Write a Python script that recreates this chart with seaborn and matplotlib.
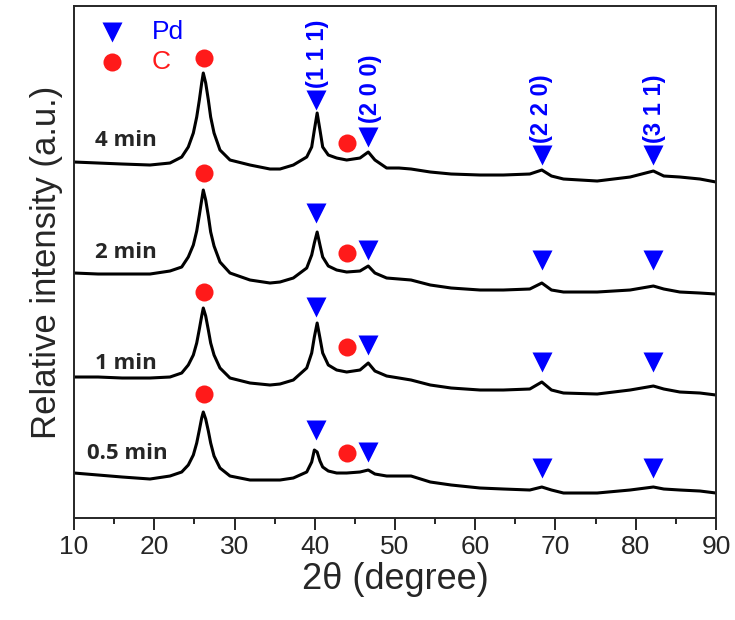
import matplotlib
matplotlib.use("Agg")
import matplotlib.pyplot as plt
import seaborn as sns
import pandas as pd
from matplotlib.ticker import MultipleLocator

# 2-theta grid (degree)
two_theta = [10, 13, 16, 19.47, 21.96, 23.42, 24.24, 24.87, 25.29, 25.62, 25.91, 26.11,
             26.41, 26.74, 27.03, 27.45, 28.19, 29.44, 31.93, 34.42, 35.67, 37.33, 39.0,
             39.62, 39.95, 40.3, 40.65, 40.99, 41.69, 42.73, 43.98, 45.64, 46.67, 47.5,
             48.96, 50.5, 52, 54.4, 57, 60.6, 63.5, 66.8, 68.3, 69.5, 71, 75.2, 79.3,
             82.2, 83.5, 85.5, 88, 90]

# intensities (a.u., already stacked)
i_4min = [356, 355, 354, 353,
          355, 361, 371, 385, 401, 418, 435, 445, 435, 418, 401, 385, 368, 358, 353, 349,
          349, 353, 361, 371, 388, 405, 388, 371, 363, 360, 358, 360, 366, 358, 350,
          350, 349, 346, 344, 343, 343, 344, 348, 342, 339, 337, 341, 347, 342, 341, 339, 336]
i_2min = [245, 244, 244, 244,
          247, 251, 261, 273, 287, 303, 318, 328, 318, 302, 286, 272, 256, 245, 238, 235,
          236, 240, 250, 263, 275, 286, 273, 261, 252, 248, 246, 247, 252, 245, 240,
          239, 238, 233, 230, 228, 228, 229, 235, 228, 226, 226, 228, 232, 229, 226, 225, 224]
i_1min = [141, 141, 140, 140,
          141, 145, 153, 163, 175, 189, 202, 210, 202, 188, 175, 163, 150, 140, 135, 133,
          134, 138, 150, 165, 181, 195, 180, 165, 153, 148, 146, 148, 155, 147, 142,
          140, 138, 133, 130, 128, 128, 129, 136, 128, 125, 124, 128, 132, 129, 126, 125, 123]
i_05min = [45, 43, 41, 39,
           42, 46, 53, 63, 75, 88, 100, 106, 99, 87, 75, 62, 50, 42, 38, 38,
           38, 40, 46, 56, 68, 66, 57, 51, 47, 45, 45, 46, 48, 44, 42,
           42, 42, 36, 33, 30, 29, 28, 31, 28, 25, 25, 28, 31, 29, 28, 27, 25]

samples = ["4 min", "2 min", "1 min", "0.5 min"]
traces = [i_4min, i_2min, i_1min, i_05min]
sample_label_pos = [(12.6, 378), (12.6, 266), (12.6, 155), (11.6, 65)]

# peak markers
c_x = [26.2, 44.0]
pd_x = [40.2, 46.6, 68.3, 82.2]
c_y = [[460, 375], [345, 265], [226, 171], [124, 65]]
pd_y = [[418, 381, 363, 363], [305, 268, 258, 258], [211, 173, 156, 156], [88, 66, 50, 50]]

hkl = ["(1 1 1)", "(2 0 0)", "(2 2 0)", "(3 1 1)"]
hkl_pos = [(40.3, 430), (47.0, 395), (68.2, 375), (82.4, 375)]

sns.set_style("ticks")
plt.rcParams['font.family'] = ['Liberation Sans', 'DejaVu Sans']

fig = plt.figure(figsize=(7.35, 6.2), dpi=100)
ax = fig.add_axes([0.1007, 0.1645, 0.8734, 0.8258])

df = pd.DataFrame({'two_theta': two_theta * 4,
                   'intensity': sum(traces, []),
                   'sample': sum([[s] * len(two_theta) for s in samples], [])})
for s in samples:
    sns.lineplot(data=df[df['sample'] == s], x='two_theta', y='intensity',
                 color='black', lw=2.2, ax=ax, estimator=None, sort=False)

for k in range(4):
    ax.plot(c_x, c_y[k], 'o', color='#ff1a1a', ms=13, mec='none')
    ax.plot(pd_x, pd_y[k], 'v', color='#0000ff', ms=15, mec='none')
    ax.text(sample_label_pos[k][0], sample_label_pos[k][1], samples[k],
            fontsize=16, fontweight='bold', family=['Open Sans', 'DejaVu Sans'],
            va='center', ha='left')

for lab, (x, y) in zip(hkl, hkl_pos):
    ax.text(x, y, lab, rotation=90, color='#0000ff', fontsize=17,
            fontweight='bold', ha='center', va='bottom')

# legend drawn inside the plot
ax.plot([14.7], [486], 'v', color='#0000ff', ms=15, mec='none')
ax.plot([14.7], [456], 'o', color='#ff1a1a', ms=13, mec='none')
ax.text(19.7, 486, "Pd", color='#0000ff', fontsize=19, va='center', ha='left')
ax.text(19.7, 456, "C", color='#ff1a1a', fontsize=19, va='center', ha='left')

ax.set_xlim(10, 90)
ax.set_ylim(0, 512)
ax.xaxis.set_major_locator(MultipleLocator(10))
ax.xaxis.set_minor_locator(MultipleLocator(5))
ax.set_yticks([])
ax.tick_params(axis='x', which='major', length=8.5, width=1.4, labelsize=19, pad=4)
ax.tick_params(axis='x', which='minor', length=4, width=1.4)
for sp in ax.spines.values():
    sp.set_linewidth(1.4)
    sp.set_visible(True)

ax.set_xlabel("2θ (degree)", fontsize=26, labelpad=2)
ax.set_ylabel("Relative intensity (a.u.)", fontsize=25, labelpad=8)

fig.savefig("out.png", dpi=100)
